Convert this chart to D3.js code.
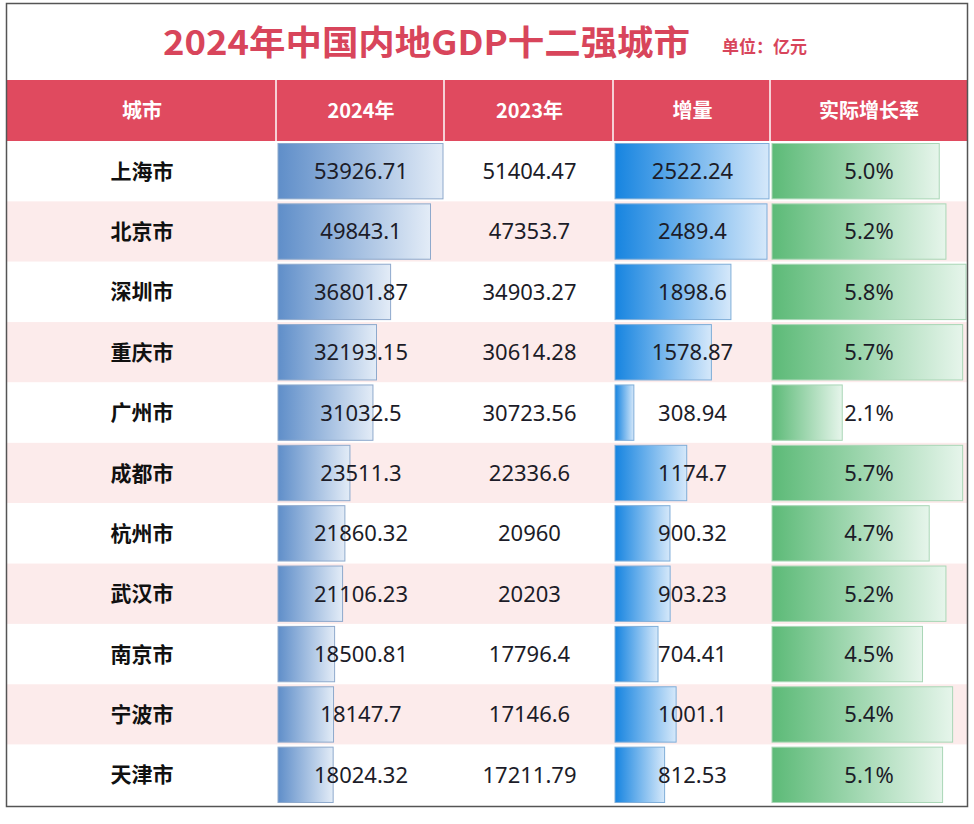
<!DOCTYPE html>
<html><head><meta charset="utf-8">
<script src="https://cdn.jsdelivr.net/npm/d3@7"></script>
<style>
html,body{margin:0;padding:0;background:#fff;}
svg{display:block;}
</style></head>
<body>
<svg id="chart" width="974" height="824"></svg>
<script>
const cities = ['上海市','北京市','深圳市','重庆市','广州市','成都市','杭州市','武汉市','南京市','宁波市','天津市'];
const gdp2024 = [53926.71,49843.1,36801.87,32193.15,31032.5,23511.3,21860.32,21106.23,18500.81,18147.7,18024.32];
const gdp2023 = [51404.47,47353.7,34903.27,30614.28,30723.56,22336.6,20960,20203,17796.4,17146.6,17211.79];
const increase = [2522.24,2489.4,1898.6,1578.87,308.94,1174.7,900.32,903.23,704.41,1001.1,812.53];
const growth = [5.0,5.2,5.8,5.7,2.1,5.7,4.7,5.2,4.5,5.4,5.1];
const headers = ['城市','2024年','2023年','增量','实际增长率'];
const title = '2024年中国内地GDP十二强城市';
const unit = '单位：亿元';

const svg = d3.select('#chart');
const colEdges = [7, 277, 445, 614, 771, 967];
const headerTop = 80, headerBottom = 141, tableBottom = 805;
const cjk = '"Noto Sans CJK SC", "Noto Sans", sans-serif';
const numFont = '"Noto Sans", "Open Sans", sans-serif';

const y = d3.scaleBand().domain(cities).range([headerBottom, tableBottom]).padding(0);

const defs = svg.append('defs');
function grad(id, c0, c1){
  const g = defs.append('linearGradient').attr('id', id).attr('x1','0%').attr('x2','100%');
  g.append('stop').attr('offset','0%').attr('stop-color', c0);
  g.append('stop').attr('offset','100%').attr('stop-color', c1);
}
grad('gBlue', '#5f8ec9', '#e3ecf7');
grad('gBright', '#1684e0', '#d5e8fa');
grad('gGreen', '#5cba77', '#e6f5eb');

// title
svg.append('text').attr('x', 163).attr('y', 55)
  .attr('textLength', 527).attr('lengthAdjust', 'spacingAndGlyphs')
  .attr('font-family', cjk).attr('font-weight', 700).attr('font-size', 34)
  .attr('fill', '#d8455b').text(title);
svg.append('text').attr('x', 722).attr('y', 53)
  .attr('font-family', cjk).attr('font-weight', 700).attr('font-size', 17)
  .attr('fill', '#d8455b').text(unit);

// header
svg.append('rect').attr('x', colEdges[0]).attr('y', headerTop)
  .attr('width', colEdges[5]-colEdges[0]).attr('height', headerBottom-headerTop).attr('fill', '#e04a5f');
headers.forEach((h,i)=>{
  if(i>0){
    svg.append('line').attr('x1', colEdges[i]-1).attr('x2', colEdges[i]-1)
      .attr('y1', headerTop).attr('y2', headerBottom).attr('stroke', '#f6d0d5').attr('stroke-width', 2);
  }
  svg.append('text').attr('x', (colEdges[i]+colEdges[i+1])/2).attr('y', (headerTop+headerBottom)/2)
    .attr('dy','0.36em').attr('text-anchor','middle')
    .attr('font-family', cjk).attr('font-weight', 700).attr('font-size', 20)
    .attr('fill', '#fff').text(h);
});

// row backgrounds
svg.append('g').selectAll('rect').data(cities).join('rect')
  .attr('x', colEdges[0]).attr('y', d=>y(d)).attr('width', colEdges[5]-colEdges[0])
  .attr('height', y.bandwidth()).attr('fill', (d,i)=> i%2===1 ? '#fcebeb' : '#ffffff');

// scales for bars
const x24 = d3.scaleLinear().domain([0, d3.max(gdp2024)]).range([colEdges[1]+1, colEdges[2]-2]);
const xInc = d3.scaleLinear().domain([0, d3.max(increase)]).range([colEdges[3]+1, colEdges[4]-2]);
const xGr = d3.scaleLinear().domain([0, d3.max(growth)]).range([colEdges[4]+1, colEdges[5]-1]);

function bars(values, scale, fill, stroke){
  svg.append('g').selectAll('rect').data(values).join('rect')
    .attr('x', scale(0)).attr('y', (d,i)=>y(cities[i])+2.5)
    .attr('width', d=>scale(d)-scale(0)).attr('height', y.bandwidth()-5)
    .attr('fill', fill).attr('stroke', stroke).attr('stroke-width', 1);
}
bars(gdp2024, x24, 'url(#gBlue)', '#8ea9cc');
bars(increase, xInc, 'url(#gBright)', '#7fadd8');
bars(growth, xGr, 'url(#gGreen)', '#a9d6b6');

// text
const cols = [
  {vals: cities, font: cjk, weight: 700, size: 21, fmt: d=>d, color:'#111'},
  {vals: gdp2024, font: numFont, weight: 400, size: 22, fmt: d=>String(d), color:'#1c1c28'},
  {vals: gdp2023, font: numFont, weight: 400, size: 22, fmt: d=>String(d), color:'#1c1c28'},
  {vals: increase, font: numFont, weight: 400, size: 22, fmt: d=>String(d), color:'#1c1c28'},
  {vals: growth, font: numFont, weight: 400, size: 22, fmt: d=>d.toFixed(1)+'%', color:'#1c1c28'}
];
cols.forEach((c,ci)=>{
  svg.append('g').selectAll('text').data(c.vals).join('text')
    .attr('x', (colEdges[ci]+colEdges[ci+1])/2)
    .attr('y', (d,i)=>y(cities[i]) + y.bandwidth()/2)
    .attr('dy','0.36em').attr('text-anchor','middle')
    .attr('font-family', c.font).attr('font-weight', c.weight).attr('font-size', c.size)
    .attr('fill', c.color).text(c.fmt);
});

// outer border
svg.append('rect').attr('x', 6.5).attr('y', 3.5).attr('width', 961).attr('height', 803)
  .attr('fill', 'none').attr('stroke', '#555').attr('stroke-width', 1.5);
</script>
</body></html>
